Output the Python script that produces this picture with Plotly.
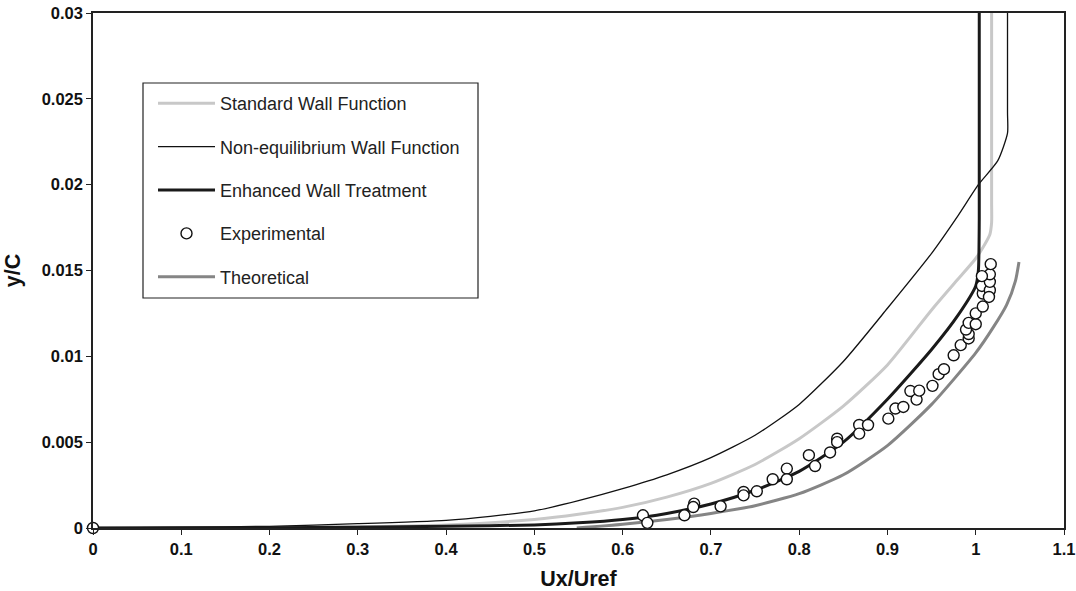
import plotly.graph_objects as go

# ---- data ----
std_x = [0, 0.1, 0.2, 0.3, 0.4, 0.5, 0.55, 0.6, 0.65, 0.7, 0.75, 0.8, 0.85, 0.9, 0.95, 0.98, 1.0, 1.01, 1.016, 1.018, 1.018, 1.018]
std_y = [0, 0.00001, 0.00003, 0.00008, 0.00018, 0.0005, 0.0008, 0.0012, 0.0018, 0.0026, 0.0037, 0.0052, 0.0071, 0.0095, 0.0127, 0.0145, 0.0157, 0.0165, 0.0171, 0.0178, 0.019, 0.03]

neq_x = [0, 0.1, 0.2, 0.3, 0.4, 0.45, 0.5, 0.55, 0.6, 0.65, 0.7, 0.75, 0.8, 0.85, 0.9, 0.95, 0.98, 1.003, 1.025, 1.036, 1.036, 1.036]
neq_y = [0, 0.00004, 0.0001, 0.00025, 0.00045, 0.00068, 0.001, 0.0016, 0.0023, 0.0031, 0.0041, 0.0054, 0.0072, 0.0097, 0.0128, 0.0160, 0.0182, 0.0200, 0.0214, 0.0230, 0.0242, 0.03]

ewt_x = [0, 0.1, 0.2, 0.3, 0.4, 0.5, 0.55, 0.6, 0.65, 0.7, 0.75, 0.8, 0.85, 0.9, 0.95, 0.98, 1.0, 1.003, 1.004, 1.004]
ewt_y = [0, 0.00001, 0.00002, 0.00005, 0.0001, 0.00018, 0.0003, 0.0005, 0.00085, 0.0014, 0.0022, 0.0033, 0.0050, 0.0075, 0.0104, 0.0124, 0.0141, 0.0150, 0.018, 0.03]

theo_x = [0.548, 0.6, 0.65, 0.7, 0.75, 0.8, 0.85, 0.9, 0.95, 1.0, 1.02, 1.035, 1.045, 1.049]
theo_y = [0.0, 0.00022, 0.0005, 0.00085, 0.0013, 0.002, 0.0031, 0.0048, 0.0072, 0.0102, 0.0117, 0.0130, 0.0144, 0.0155]

exp_x = [0, 0.623, 0.628, 0.670, 0.681, 0.680, 0.711, 0.737, 0.737, 0.752, 0.770, 0.786, 0.786, 0.811, 0.818,
         0.835, 0.843, 0.843, 0.868, 0.868, 0.878, 0.901, 0.909, 0.918, 0.926, 0.933, 0.936, 0.951, 0.958,
         0.964, 0.975, 0.983, 0.992, 0.992, 0.989, 0.992, 1.0, 1.0, 1.008, 1.008, 1.007, 1.016, 1.016,
         1.016, 1.007, 1.017, 1.015]
exp_y = [0, 0.00074, 0.0003, 0.00074, 0.00142, 0.00122, 0.00126, 0.0021, 0.0019, 0.00214, 0.00284, 0.00346, 0.00284, 0.00424, 0.00361,
         0.0044, 0.0052, 0.0050, 0.0060, 0.0055, 0.0060, 0.00637, 0.00696, 0.00705, 0.00798, 0.00748, 0.0080, 0.00828, 0.00896,
         0.00925, 0.01006, 0.01065, 0.01104, 0.0113, 0.01156, 0.01195, 0.01187, 0.0125, 0.0129, 0.01366, 0.0141, 0.01385, 0.01434,
         0.01478, 0.01467, 0.01537, 0.01346]

x_ticks = [0, 0.1, 0.2, 0.3, 0.4, 0.5, 0.6, 0.7, 0.8, 0.9, 1, 1.1]
y_ticks = [0, 0.005, 0.01, 0.015, 0.02, 0.025, 0.03]

FONT = "Liberation Sans, Arial, sans-serif"
SMOOTH = 0.6

# plot area in pixels (used to place legend frame)
L, R, T, B, W, H = 93, 12, 13, 63, 1076, 591
PW, PH = W - L - R, H - T - B
def px_x(p): return (p - L) / PW
def px_y(p): return (H - B - p) / PH

fig = go.Figure()
fig.add_trace(go.Scatter(x=std_x, y=std_y, mode="lines", name="Standard Wall Function",
                         line=dict(color="#c8c8c8", width=3, shape="spline", smoothing=SMOOTH),
                         legendgroup="a", legendrank=1))
fig.add_trace(go.Scatter(x=neq_x, y=neq_y, mode="lines", name="Non-equilibrium Wall Function",
                         line=dict(color="#111111", width=1.3, shape="spline", smoothing=SMOOTH),
                         legendgroup="b", legendrank=2))
fig.add_trace(go.Scatter(x=theo_x, y=theo_y, mode="lines", name="Theoretical",
                         line=dict(color="#858585", width=3, shape="spline", smoothing=SMOOTH),
                         legendgroup="e", legendrank=5))
fig.add_trace(go.Scatter(x=ewt_x, y=ewt_y, mode="lines", name="Enhanced Wall Treatment",
                         line=dict(color="#1a1a1a", width=3, shape="spline", smoothing=SMOOTH),
                         legendgroup="c", legendrank=3))
fig.add_trace(go.Scatter(x=exp_x, y=exp_y, mode="markers", name="Experimental",
                         marker=dict(symbol="circle", size=11, color="white",
                                     line=dict(color="#111111", width=1.4)),
                         cliponaxis=False, legendgroup="d", legendrank=4))

fig.add_shape(type="rect", xref="paper", yref="paper",
              x0=px_x(143), x1=px_x(478), y0=px_y(298), y1=px_y(83),
              line=dict(color="#222222", width=1.2), fillcolor="white", layer="above")

fig.update_layout(
    width=W, height=H,
    margin=dict(l=L, r=R, t=T, b=B),
    paper_bgcolor="white", plot_bgcolor="white",
    font=dict(family=FONT, color="#111111"),
    showlegend=True,
    legend=dict(x=px_x(153), y=px_y(85), xanchor="left", yanchor="top",
                bgcolor="rgba(0,0,0,0)", borderwidth=0,
                font=dict(size=18, family=FONT, color="#222222"),
                itemwidth=57, tracegroupgap=17, traceorder="grouped"),
    xaxis=dict(range=[0, 1.1], tickvals=x_ticks, ticktext=[str(v) for v in x_ticks],
               showgrid=False, zeroline=False, showline=True, linecolor="#222222", linewidth=1.5,
               mirror=True, ticks="outside", ticklen=5, tickcolor="#222222", automargin=False,
               tickfont=dict(size=16.5, family=FONT, weight="bold"),
               title=dict(text="Ux/Uref", font=dict(size=21.5, family=FONT, weight="bold"))),
    yaxis=dict(range=[0, 0.03], tickvals=y_ticks, ticktext=[str(v) for v in y_ticks],
               showgrid=False, zeroline=False, showline=True, linecolor="#222222", linewidth=1.5,
               mirror=True, ticks="outside", ticklen=5, tickcolor="#222222", automargin=False,
               tickfont=dict(size=16.5, family=FONT, weight="bold"),
               title=dict(text="y/C", font=dict(size=21.5, family=FONT, weight="bold"))),
)

fig.write_html("out.html")
